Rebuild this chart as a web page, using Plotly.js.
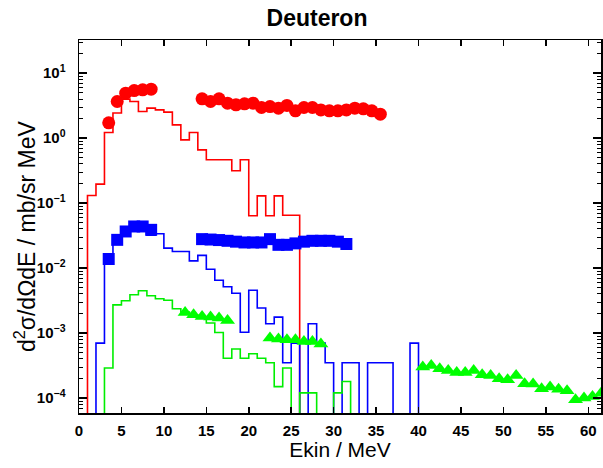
<!DOCTYPE html>
<html><head><meta charset="utf-8">
<script src="https://cdn.plot.ly/plotly-3.0.1.min.js"></script>
<style>html,body{margin:0;padding:0;background:#fff}#chart{width:603px;height:468px}</style>
</head><body><div id="chart"></div>
<script>
// Histogram bin contents, 1 MeV bins starting at 0 MeV
const binStart = 0;
const binWidth = 1;
const redHist = [0, 0.131, 0.196, 1.22, 2.43, 3.98, 3.66, 2.57, 2.89, 2.72, 2.51, 1.6, 0.94, 1.22, 0.66, 0.464, 0.464, 0.464, 0.314, 0.464, 0.0638, 0.129, 0.0638, 0.129, 0.065, 0.065, 0];
const blueHist = [0, 0, 7.0e-4, 0.0164, 0.0272, 0.0366, 0.0463, 0.0463, 0.032, 0.0337, 0.0203, 0.018, 0.018, 0.0129, 0.0157, 0.0096, 0.0065, 0.00515, 0.0041, 0.00103, 0.00455, 0.00243, 0.00139, 0.00176, 3.5e-4, 7.0e-4, 0, 0.00139, 7.0e-4, 3.5e-4, 0, 3.5e-4, 3.5e-4, 0, 3.5e-4, 3.5e-4, 3.5e-4, 0, 0, 7.0e-4, 0];
const greenHist = [0, 0, 0, 2.9e-4, 0.00272, 0.00314, 0.00389, 0.00448, 0.00375, 0.00337, 0.0032, 0.00237, 0.0021, 0.0019, 0.0017, 0.00143, 0.00102, 4.1e-4, 5.7e-4, 4.1e-4, 4.8e-4, 4.1e-4, 3.5e-4, 1.5e-4, 2.9e-4, 0, 1.2e-4, 1.2e-4, 0, 0, 1.2e-4, 1.8e-4, 0];

// Measured points
const redE = [3.5, 4.5, 5.5, 6.5, 7.5, 8.5, 14.5, 15.5, 16.5, 17.5, 18.5, 19.5, 20.5, 21.5, 22.5, 23.5, 24.5, 25.5, 26.5, 27.5, 28.5, 29.5, 30.5, 31.5, 32.5, 33.5, 34.5, 35.5];
const redV = [1.72, 3.66, 4.92, 5.4, 5.53, 5.67, 4.03, 3.66, 4.03, 3.45, 3.25, 3.37, 3.45, 2.96, 3.06, 2.89, 3.18, 2.63, 2.96, 2.96, 2.72, 2.63, 2.63, 2.72, 2.89, 2.82, 2.63, 2.34];
const blueE = [3.5, 4.5, 5.5, 6.5, 7.5, 8.5, 14.5, 15.5, 16.5, 17.5, 18.5, 19.5, 20.5, 21.5, 22.5, 23.5, 24.5, 25.5, 26.5, 27.5, 28.5, 29.5, 30.5, 31.5];
const blueV = [0.0138, 0.0272, 0.0366, 0.0437, 0.0437, 0.0388, 0.0279, 0.0275, 0.027, 0.0263, 0.0255, 0.0248, 0.0248, 0.0248, 0.0279, 0.0228, 0.0228, 0.024, 0.0255, 0.0263, 0.0263, 0.0263, 0.0255, 0.0235];
const greenE = [12.5, 13.5, 14.5, 15.5, 16.5, 17.5, 22.5, 23.5, 24.5, 25.5, 26.5, 27.5, 28.5, 40.5, 41.5, 42.5, 43.5, 44.5, 45.5, 46.5, 47.5, 48.5, 49.5, 50.5, 51.5, 52.5, 53.5, 54.5, 55.5, 56.5, 57.5, 58.5, 59.5, 60.5, 61.5];
const greenV = [0.00207, 0.00191, 0.0018, 0.00176, 0.0017, 0.00156, 8.4e-4, 8.1e-4, 7.9e-4, 7.9e-4, 7.4e-4, 7.4e-4, 6.8e-4, 3.0e-4, 3.18e-4, 2.82e-4, 2.66e-4, 2.48e-4, 2.48e-4, 2.66e-4, 2.28e-4, 2.23e-4, 1.98e-4, 1.91e-4, 2.23e-4, 1.66e-4, 1.64e-4, 1.39e-4, 1.48e-4, 1.37e-4, 1.29e-4, 9.4e-5, 1.0e-4, 1.06e-4, 1.19e-4];

const yTickVals = [1e-4, 1e-3, 1e-2, 1e-1, 1, 10];
const yTickText = ['10<sup>−4</sup>', '10<sup>−3</sup>', '10<sup>−2</sup>', '10<sup>−1</sup>', '10<sup>0</sup>', '10<sup>1</sup>'];

const EMPTY = 1e-9; // empty bins fall below the visible range
function stepTrace(hist, color) {
  const x = [], y = [];
  for (let i = 0; i < hist.length; i++) {
    x.push(binStart + i * binWidth);
    y.push(hist[i] > 0 ? hist[i] : EMPTY);
  }
  x.push(binStart + hist.length * binWidth);
  y.push(EMPTY);
  return {x, y, type: 'scatter', mode: 'lines', line: {shape: 'hv', color, width: 1.6}, hoverinfo: 'skip', showlegend: false};
}

const minorVals = [];
for (let d = -5; d <= 1; d++) for (let m = 2; m <= 9; m++) minorVals.push(m * Math.pow(10, d));

const traces = [
  stepTrace(redHist, '#ff0000'),
  stepTrace(blueHist, '#0000ff'),
  stepTrace(greenHist, '#00ee00'),
  {x: redE, y: redV, type: 'scatter', mode: 'markers', marker: {symbol: 'circle', size: 13, color: '#ff0000'}, showlegend: false},
  {x: blueE, y: blueV, type: 'scatter', mode: 'markers', marker: {symbol: 'square', size: 12, color: '#0000ff'}, showlegend: false},
  {x: greenE, y: greenV, type: 'scatter', mode: 'markers', marker: {symbol: 'triangle-up', size: 13, color: '#00ff00'}, showlegend: false}
];

const FONT = 'Liberation Sans, Arial, sans-serif';
const tickFont = {family: FONT, size: 15, color: '#000', weight: 'bold'};
const plotL = 79, plotR = 2, plotT = 40, plotB = 55;
const plotH = 468 - plotT - plotB, plotW = 603 - plotL - plotR;
const layout = {
  width: 603, height: 468,
  margin: {l: plotL, r: plotR, t: plotT, b: plotB},
  paper_bgcolor: '#fff', plot_bgcolor: '#fff',
  title: {text: 'Deuteron', x: 317 / 603, xref: 'container', xanchor: 'center', y: 1 - 18 / 468, yref: 'container', yanchor: 'middle',
          font: {family: FONT, size: 23, color: '#000', weight: 'bold'}},
  xaxis: {
    range: [0, 61.5], dtick: 5, tick0: 0, ticks: 'inside', ticklen: 6, tickwidth: 1.5, tickcolor: '#000',
    showline: true, linecolor: '#000', linewidth: 1.5, mirror: 'ticks', showgrid: false, zeroline: false,
    tickfont: tickFont, ticklabelstandoff: 3,
    title: {text: 'Ekin / MeV', font: {family: FONT, size: 21, color: '#000'}, standoff: 1}
  },
  yaxis: {
    type: 'log', range: [-4.23, 1.51], tickmode: 'array', tickvals: yTickVals, ticktext: yTickText,
    ticks: 'inside', ticklen: 8, tickwidth: 1.5, tickcolor: '#000',
    minor: {tickmode: 'array', tickvals: minorVals, ticks: 'inside', ticklen: 4, tickwidth: 1, tickcolor: '#000', showgrid: false},
    showline: true, linecolor: '#000', linewidth: 1.5, mirror: 'ticks', showgrid: false, zeroline: false,
    tickfont: tickFont, ticklabelstandoff: 9
  },
  annotations: [{
    text: 'd<sup>2</sup>σ/dΩdE / mb/sr MeV', textangle: -90, showarrow: false,
    xref: 'paper', x: (25 - plotL) / plotW, xanchor: 'center',
    yref: 'paper', y: (468 - plotB - 237) / plotH, yanchor: 'middle',
    font: {family: FONT, size: 23, color: '#000'}
  }]
};

Plotly.newPlot('chart', traces, layout, {displayModeBar: false, staticPlot: true});
</script>
</body></html>
